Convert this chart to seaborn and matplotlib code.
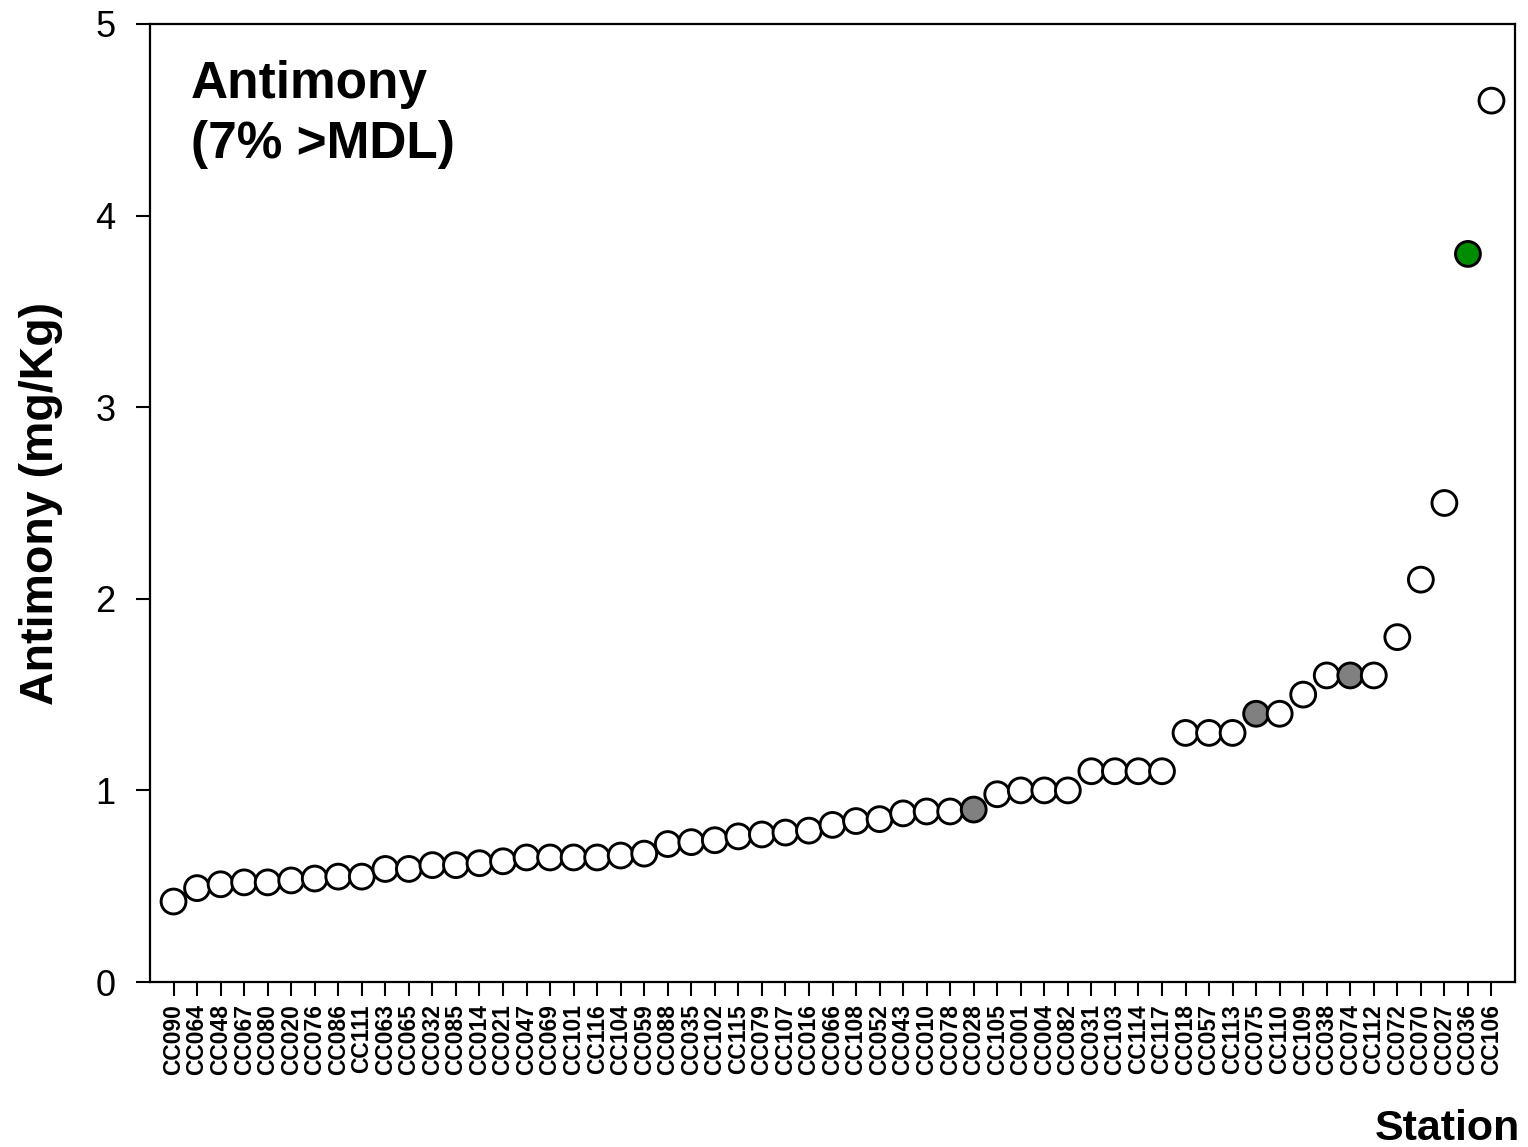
import matplotlib
matplotlib.use("Agg")
import matplotlib.pyplot as plt
import seaborn as sns
import pandas as pd

stations = ["CC090", "CC064", "CC048", "CC067", "CC080", "CC020", "CC076", "CC086", "CC111", "CC063",
            "CC065", "CC032", "CC085", "CC014", "CC021", "CC047", "CC069", "CC101", "CC116", "CC104",
            "CC059", "CC088", "CC035", "CC102", "CC115", "CC079", "CC107", "CC016", "CC066", "CC108",
            "CC052", "CC043", "CC010", "CC078", "CC028", "CC105", "CC001", "CC004", "CC082", "CC031",
            "CC103", "CC114", "CC117", "CC018", "CC057", "CC113", "CC075", "CC110", "CC109", "CC038",
            "CC074", "CC112", "CC072", "CC070", "CC027", "CC036", "CC106"]
values = [0.42, 0.49, 0.51, 0.52, 0.52, 0.53, 0.54, 0.55, 0.55, 0.59,
          0.59, 0.61, 0.61, 0.62, 0.63, 0.65, 0.65, 0.65, 0.65, 0.66,
          0.67, 0.72, 0.73, 0.74, 0.76, 0.77, 0.78, 0.79, 0.82, 0.84,
          0.85, 0.88, 0.89, 0.89, 0.90, 0.98, 1.00, 1.00, 1.00, 1.10,
          1.10, 1.10, 1.10, 1.30, 1.30, 1.30, 1.40, 1.40, 1.50, 1.60,
          1.60, 1.60, 1.80, 2.10, 2.50, 3.80, 4.60]
group = ["open"] * 57
group[34] = "gray"
group[46] = "gray"
group[50] = "gray"
group[55] = "green"
palette = {"open": "white", "gray": "#808080", "green": "#008c00"}

df = pd.DataFrame({"Station": stations, "Value": values, "Group": group})

sns.set_style("white")
plt.rcParams["font.family"] = ["Liberation Sans", "DejaVu Sans"]
plt.rcParams["text.color"] = "black"
plt.rcParams["axes.labelcolor"] = "black"
plt.rcParams["xtick.color"] = "black"
plt.rcParams["ytick.color"] = "black"

fig = plt.figure(figsize=(15.28, 11.47), dpi=100)
ax = fig.add_axes([150 / 1528, 1 - 982 / 1147, (1515 - 150) / 1528, (982 - 24) / 1147])

sns.scatterplot(data=df, x="Station", y="Value", hue="Group", palette=palette,
                s=320, edgecolor="black", linewidth=2.1, legend=False, ax=ax, zorder=3)

ax.set_xlim(-1, 57)
ax.set_ylim(0, 5)
ax.set_yticks([0, 1, 2, 3, 4, 5])
ax.set_xticks(range(len(stations)))
ax.set_xticklabels(stations, rotation=90, fontsize=16.5, fontweight="bold")
ax.tick_params(axis="y", direction="out", length=10, width=1.5, labelsize=26, pad=15,
               left=True, colors="black")
ax.tick_params(axis="x", direction="out", length=10, width=1.5, pad=6, bottom=True,
               colors="black")
for sp in ax.spines.values():
    sp.set_visible(True)
    sp.set_color("black")
    sp.set_linewidth(1.6)

ax.set_xlabel("")
ax.set_ylabel("Antimony (mg/Kg)", fontsize=33.5, fontweight="bold", labelpad=23)
ax.text(0.03, 0.962, "Antimony\n(7% >MDL)", transform=ax.transAxes, fontsize=37,
        fontweight="bold", va="top", ha="left", linespacing=1.28)
fig.text(1520 / 1528, 1 - 1140 / 1147, "Station", fontsize=31, fontweight="bold",
         ha="right", va="baseline")

fig.savefig("out.png", dpi=100)
